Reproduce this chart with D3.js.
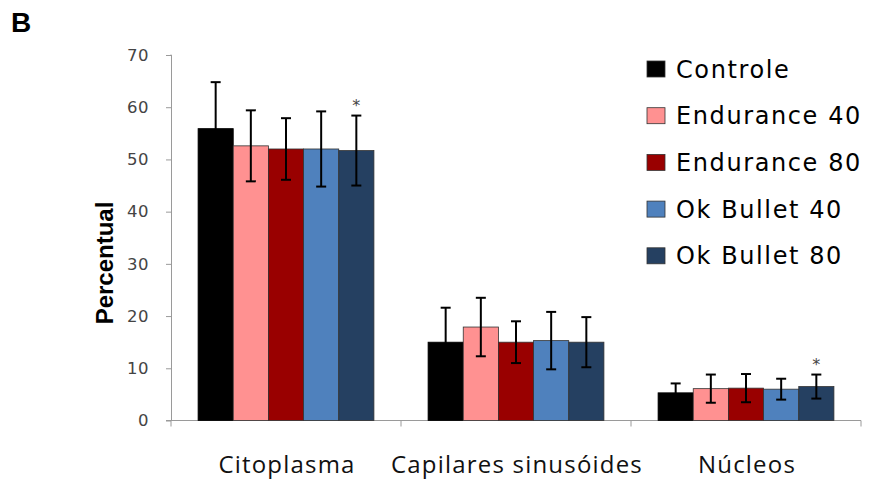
<!DOCTYPE html>
<html><head><meta charset="utf-8">
<script src="https://cdn.jsdelivr.net/npm/d3@7"></script>
<style>body{margin:0;background:#fff}svg{display:block}</style>
</head><body>
<script>
const categories = ["Citoplasma", "Capilares sinusóides", "Núcleos"];
const series = ["Controle", "Endurance 40", "Endurance 80", "Ok Bullet 40", "Ok Bullet 80"];
const colors = ["#000000", "#FF9191", "#990000", "#4F81BD", "#254061"];
const controle   = [55.9, 15.0, 5.3];
const endurance40 = [52.6, 17.9, 6.1];
const endurance80 = [52.0, 15.0, 6.2];
const okBullet40  = [52.0, 15.3, 6.0];
const okBullet80  = [51.7, 15.0, 6.5];
const errControle = [8.9, 6.6, 1.8];
const errE40 = [6.8, 5.6, 2.7];
const errE80 = [5.9, 4.0, 2.7];
const errO40 = [7.2, 5.5, 2.0];
const errO80 = [6.7, 4.8, 2.3];
const significant = [[0,4],[2,4]]; // [category, series] with asterisk
const yTicks = [0,10,20,30,40,50,60,70];

const values = [controle, endurance40, endurance80, okBullet40, okBullet80];
const errors = [errControle, errE40, errE80, errO40, errO80];

const W = 876, H = 479;
const svg = d3.select("body").append("svg").attr("width", W).attr("height", H);

const y = d3.scaleLinear().domain([0, 70]).range([420.5, 55]);
const x = d3.scaleBand().domain(categories).range([171, 861]).padding(0);
const xs = d3.scaleBand().domain(series).range([0, x.bandwidth()]).paddingInner(0).paddingOuter(0.77);

const data = [];
categories.forEach((c, ci) => series.forEach((s, si) => data.push({c, s, ci, si, v: values[si][ci], e: errors[si][ci]})));

// Axes
const axisColor = "#9a9a9a";
const yAxis = svg.append("g").attr("transform", "translate(171,0)")
  .call(d3.axisLeft(y).tickValues(yTicks).tickSize(5).tickPadding(17).tickFormat(d3.format("d")));
yAxis.select(".domain").attr("stroke", axisColor).attr("d", `M-0.5,${y(70)}H0.5V${y(0)}`);
yAxis.selectAll(".tick line").attr("stroke", axisColor);
yAxis.selectAll(".tick text").attr("fill", "#444").style("font-family", "DejaVu Sans").style("font-size", "16.5px").style("letter-spacing", "0.5px");

const xAxis = svg.append("g").attr("transform", `translate(0,${y(0)})`);
xAxis.append("line").attr("x1", 166).attr("x2", 861).attr("y1", 0).attr("y2", 0).attr("stroke", axisColor);
const boundaries = categories.map(c => x(c)).concat([x(categories[categories.length-1]) + x.bandwidth()]);
xAxis.selectAll("line.tk").data(boundaries).join("line").attr("class","tk")
  .attr("x1", d => d).attr("x2", d => d).attr("y1", 0).attr("y2", 6).attr("stroke", axisColor);

// Bars
svg.append("g").selectAll("rect").data(data).join("rect")
  .attr("x", d => x(d.c) + xs(d.s))
  .attr("y", d => y(d.v))
  .attr("width", xs.bandwidth())
  .attr("height", d => y(0) - y(d.v))
  .attr("fill", d => colors[d.si])
  .attr("stroke", d => d.si === 0 ? "#000" : "#333")
  .attr("stroke-width", 0.8);

// Error bars
const eb = svg.append("g").attr("stroke", "#000").attr("stroke-width", 2);
data.forEach(d => {
  const cx = x(d.c) + xs(d.s) + xs.bandwidth()/2;
  eb.append("line").attr("x1", cx).attr("x2", cx).attr("y1", y(d.v + d.e)).attr("y2", y(d.v - d.e));
  [d.v + d.e, d.v - d.e].forEach(v => eb.append("line").attr("x1", cx-5).attr("x2", cx+5).attr("y1", y(v)).attr("y2", y(v)));
});

// Asterisks
significant.forEach(([ci, si]) => {
  const d = data.find(q => q.ci === ci && q.si === si);
  const cx = x(d.c) + xs(d.s) + xs.bandwidth()/2;
  svg.append("text").attr("x", cx).attr("y", y(d.v + d.e) - 5).attr("text-anchor", "middle")
    .attr("fill", "#444").style("font-family", "DejaVu Sans").style("font-size", "16px").text("*");
});

// Category labels
svg.append("g").selectAll("text").data(categories).join("text")
  .attr("x", d => x(d) + x.bandwidth()/2 + 1)
  .attr("y", 473)
  .attr("text-anchor", "middle")
  .attr("fill", "#111")
  .style("font-family", "Open Sans").style("font-size", "24px").style("letter-spacing", "1.2px")
  .text(d => d);

// Y label
svg.append("text").attr("transform", "translate(113,263) rotate(-90)")
  .attr("text-anchor", "middle").attr("fill", "#000")
  .style("font-family", "Liberation Sans").style("font-weight", "bold").style("font-size", "24px")
  .text("Percentual");

// Panel letter
svg.append("text").attr("x", 11).attr("y", 32).attr("fill", "#000")
  .style("font-family", "Liberation Sans").style("font-weight", "bold").style("font-size", "28px").text("B");

// Legend
const leg = svg.append("g");
series.forEach((s, i) => {
  const cy = 69 + i * 46.7;
  leg.append("rect").attr("x", 647).attr("y", cy - 8).attr("width", 18).attr("height", 16)
    .attr("fill", colors[i]).attr("stroke", "#333").attr("stroke-width", 0.8);
  leg.append("text").attr("x", 676).attr("y", cy + 8.5).attr("fill", "#000")
    .style("font-family", "DejaVu Sans").style("font-size", "24px").style("letter-spacing", "1.6px")
    .text(s);
});
</script>
</body></html>
